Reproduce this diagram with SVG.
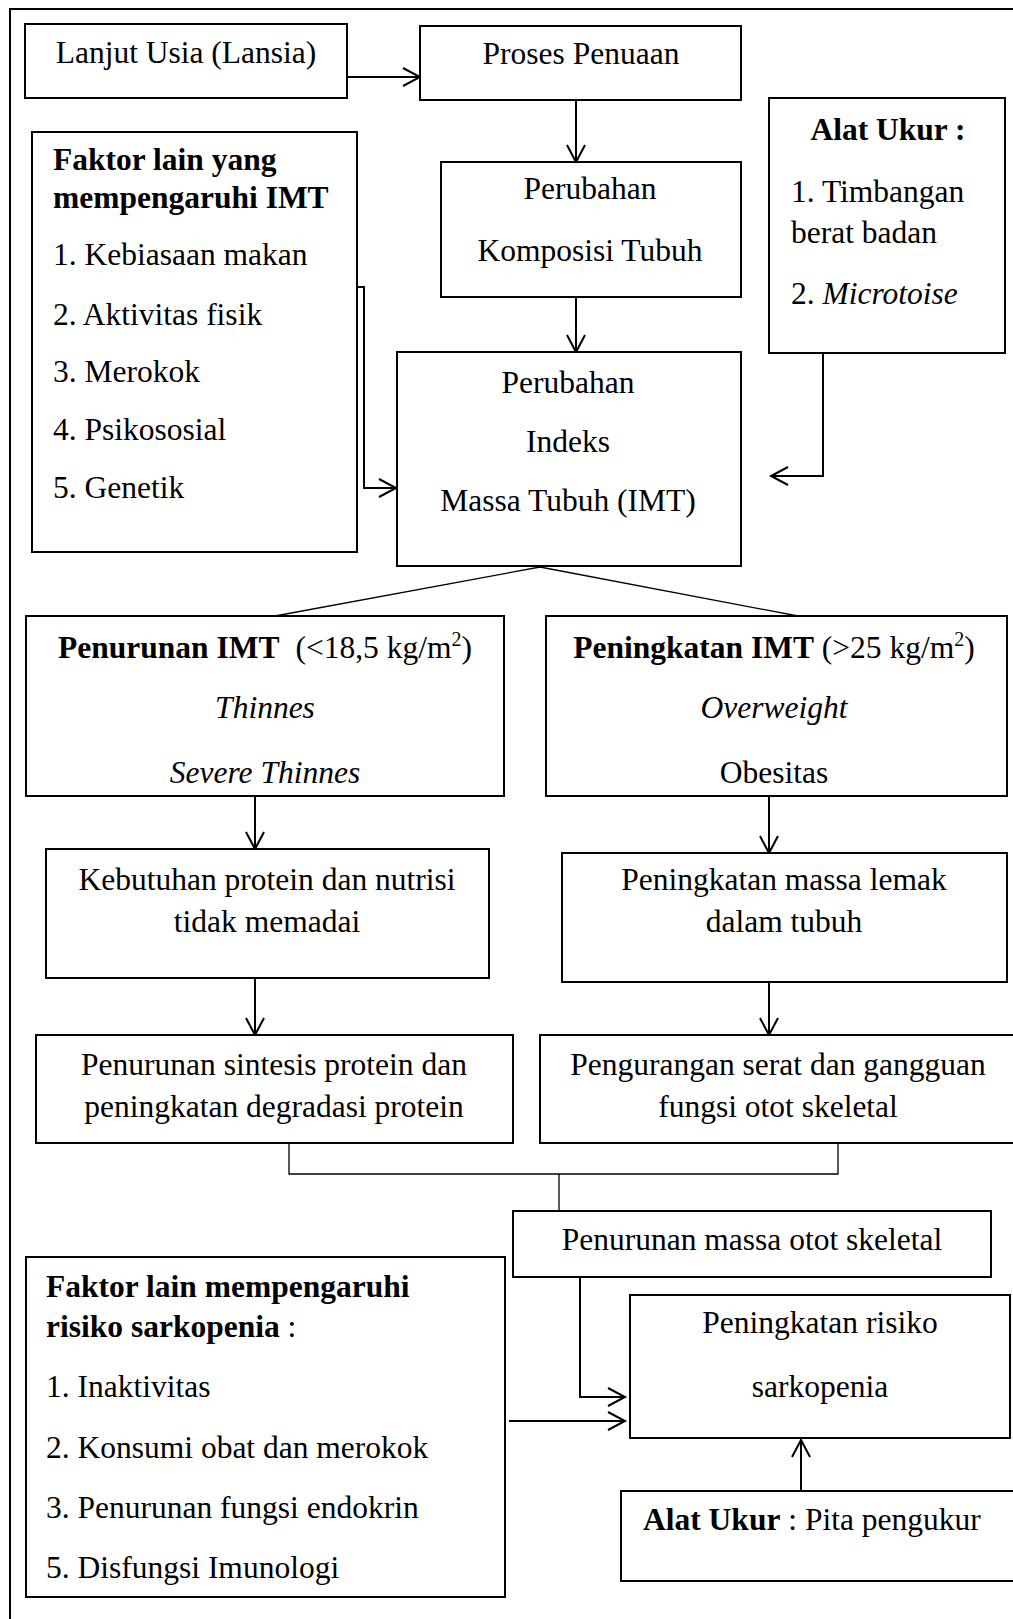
<svg xmlns="http://www.w3.org/2000/svg" width="1013" height="1619" viewBox="0 0 1013 1619">
<style>
.box{fill:#fff;stroke:#000;stroke-width:2}
.t{font-family:"Liberation Serif","Times New Roman",serif;font-size:31.5px;fill:#000}
.c{text-anchor:middle}
.b{font-weight:bold}
.i{font-style:italic}
.ln{fill:none;stroke:#000;stroke-width:2}
.thin{fill:none;stroke:#000;stroke-width:1.3}
</style>
<defs>
<marker id="ah" markerUnits="userSpaceOnUse" markerWidth="24" markerHeight="24" refX="18" refY="10" orient="auto" overflow="visible">
<path d="M1,1 L18,10 L1,19" fill="none" stroke="#000" stroke-width="2"/>
</marker>
</defs>
<rect x="0" y="0" width="1013" height="1619" fill="#fff"/>
<rect id="frame" x="10" y="9" width="1020" height="1630" fill="none" stroke="#000" stroke-width="2"/>

<g id="connectors">
<path class="ln" d="M347,77 H420" marker-end="url(#ah)"/>
<path class="ln" d="M576,100 V162" marker-end="url(#ah)"/>
<path class="ln" d="M576,297 V352" marker-end="url(#ah)"/>
<path class="ln" d="M357,287 H364 V488 H396" marker-end="url(#ah)"/>
<path class="ln" d="M876,353 H823 V476 H771" marker-end="url(#ah)"/>
<path class="thin" d="M275,616 L540,567 L798,616"/>
<path class="ln" d="M255,796 V849" marker-end="url(#ah)"/>
<path class="ln" d="M769,796 V853" marker-end="url(#ah)"/>
<path class="ln" d="M255,978 V1035" marker-end="url(#ah)"/>
<path class="ln" d="M769,982 V1035" marker-end="url(#ah)"/>
<path class="thin" d="M289,1143 V1174 H838 V1143"/>
<path class="thin" d="M559,1174 V1211"/>
<path class="ln" d="M536,1277 H580 V1397 H625" marker-end="url(#ah)"/>
<path class="ln" d="M509,1421 H625" marker-end="url(#ah)"/>
<path class="ln" d="M801,1492 V1440" marker-end="url(#ah)"/>
</g>

<g id="lansia">
<rect class="box" x="25" y="24" width="322" height="74"/>
<text class="t c" x="186" y="63">Lanjut Usia (Lansia)</text>
</g>

<g id="proses">
<rect class="box" x="420" y="26" width="321" height="74"/>
<text class="t c" x="581" y="64">Proses Penuaan</text>
</g>

<g id="komposisi">
<rect class="box" x="441" y="162" width="300" height="135"/>
<text class="t c" x="590" y="199">Perubahan</text>
<text class="t c" x="590" y="261">Komposisi Tubuh</text>
</g>

<g id="alat-ukur-imt">
<rect class="box" x="769" y="98" width="236" height="255"/>
<text class="t c b" x="888" y="140">Alat Ukur :</text>
<text class="t" x="791" y="202">1. Timbangan</text>
<text class="t" x="791" y="243">berat badan</text>
<text class="t" x="791" y="304">2. <tspan class="i">Microtoise</tspan></text>
</g>

<g id="faktor-imt">
<rect class="box" x="32" y="132" width="325" height="420"/>
<text class="t b" x="53" y="170">Faktor lain yang</text>
<text class="t b" x="53" y="208">mempengaruhi IMT</text>
<text class="t" x="53" y="265">1. Kebiasaan makan</text>
<text class="t" x="53" y="325">2. Aktivitas fisik</text>
<text class="t" x="53" y="382">3. Merokok</text>
<text class="t" x="53" y="440">4. Psikososial</text>
<text class="t" x="53" y="498">5. Genetik</text>
</g>

<g id="imt">
<rect class="box" x="397" y="352" width="344" height="214"/>
<text class="t c" x="568" y="393">Perubahan</text>
<text class="t c" x="568" y="452">Indeks</text>
<text class="t c" x="568" y="511">Massa Tubuh (IMT)</text>
</g>

<g id="penurunan-imt">
<rect class="box" x="26" y="616" width="478" height="180"/>
<text class="t c" x="265" y="658"><tspan class="b">Penurunan IMT</tspan><tspan dx="8"> (&lt;18,5 kg/m</tspan><tspan dy="-12" font-size="20">2</tspan><tspan dy="12">)</tspan></text>
<text class="t c i" x="265" y="718">Thinnes</text>
<text class="t c i" x="265" y="783">Severe Thinnes</text>
</g>

<g id="peningkatan-imt">
<rect class="box" x="546" y="616" width="461" height="180"/>
<text class="t c" x="774" y="658"><tspan class="b">Peningkatan IMT</tspan> (&gt;25 kg/m<tspan dy="-12" font-size="20">2</tspan><tspan dy="12">)</tspan></text>
<text class="t c i" x="774" y="718">Overweight</text>
<text class="t c" x="774" y="783">Obesitas</text>
</g>

<g id="kebutuhan">
<rect class="box" x="46" y="849" width="443" height="129"/>
<text class="t c" x="267" y="890">Kebutuhan protein dan nutrisi</text>
<text class="t c" x="267" y="932">tidak memadai</text>
</g>

<g id="massa-lemak">
<rect class="box" x="562" y="853" width="445" height="129"/>
<text class="t c" x="784" y="890">Peningkatan massa lemak</text>
<text class="t c" x="784" y="932">dalam tubuh</text>
</g>

<g id="sintesis">
<rect class="box" x="36" y="1035" width="477" height="108"/>
<text class="t c" x="274" y="1075">Penurunan sintesis protein dan</text>
<text class="t c" x="274" y="1117">peningkatan degradasi protein</text>
</g>

<g id="pengurangan">
<rect class="box" x="540" y="1035" width="480" height="108"/>
<text class="t c" x="778" y="1075">Pengurangan serat dan gangguan</text>
<text class="t c" x="778" y="1117">fungsi otot skeletal</text>
</g>

<g id="massa-otot">
<rect class="box" x="513" y="1211" width="478" height="66"/>
<text class="t c" x="752" y="1250">Penurunan massa otot skeletal</text>
</g>

<g id="risiko">
<rect class="box" x="630" y="1295" width="380" height="143"/>
<text class="t c" x="820" y="1333">Peningkatan risiko</text>
<text class="t c" x="820" y="1397">sarkopenia</text>
</g>

<g id="faktor-risiko">
<rect class="box" x="26" y="1257" width="479" height="340"/>
<text class="t b" x="46" y="1297">Faktor lain mempengaruhi</text>
<text class="t" x="46" y="1337"><tspan class="b">risiko sarkopenia</tspan> :</text>
<text class="t" x="46" y="1397">1. Inaktivitas</text>
<text class="t" x="46" y="1458">2. Konsumi obat dan merokok</text>
<text class="t" x="46" y="1518">3. Penurunan fungsi endokrin</text>
<text class="t" x="46" y="1578">5. Disfungsi Imunologi</text>
</g>

<g id="alat-ukur-pita">
<rect class="box" x="621" y="1491" width="400" height="90"/>
<text class="t" x="643" y="1530"><tspan class="b">Alat Ukur</tspan> : Pita pengukur</text>
</g>
</svg>
